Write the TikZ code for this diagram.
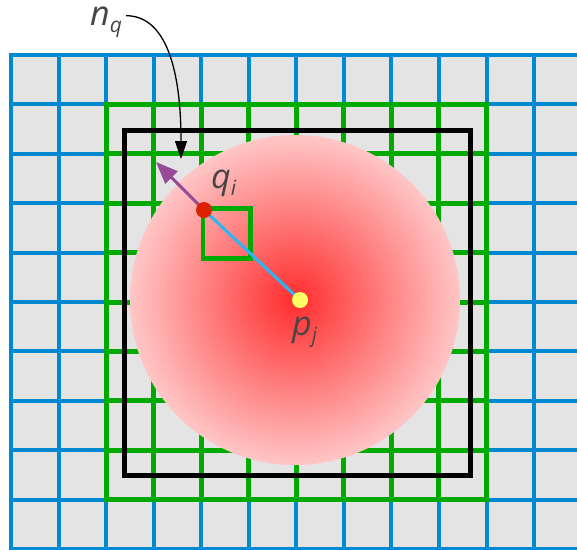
\documentclass[tikz,border=0pt]{standalone}
\usepackage{fontspec}
\setmainfont{Open Sans}
\usetikzlibrary{arrows.meta, calc}
\definecolor{gridblue}{RGB}{0,136,209}
\definecolor{gridgreen}{RGB}{0,170,0}
\definecolor{cellgray}{RGB}{228,228,228}
\definecolor{linkblue}{RGB}{41,182,246}
\definecolor{normalpurple}{RGB}{150,75,150}
\definecolor{labelgray}{RGB}{70,70,70}
\definecolor{kernelred}{RGB}{255,45,45}
\definecolor{kernelpink}{RGB}{255,198,198}
\definecolor{dotred}{RGB}{221,34,0}
\definecolor{dotyellow}{RGB}{255,255,100}
\tikzset{
    bluegrid/.style={gridblue, line width=4pt, line cap=rect},
    greengrid/.style={gridgreen, line width=5pt, line cap=rect},
    searchbox/.style={black, line width=5pt},
    particle/.style={circle, inner sep=0pt, minimum size=#1},
    symbol/.style={anchor=base west, inner sep=0pt, text=labelgray, font=\fontsize{34}{34}\selectfont\itshape}
}
\newcommand{\symb}[2]{#1\raisebox{-7pt}{\fontsize{21}{21}\selectfont #2}}

\begin{document}
\begin{tikzpicture}[x=1pt, y=-1pt]
        \useasboundingbox (0,0) rectangle (577,549);
        \clip (0,0) rectangle (577,549);
        % Background cells
        \fill[cellgray] (11,55) rectangle (600,580);
        
        % Coarse grid
        \foreach \i in {0,...,12} {
            \draw[bluegrid] (11+47.55*\i,55) -- (11+47.55*\i,580);
        }
        \foreach \j in {0,...,10} {
            \draw[bluegrid] (11,55+49.4*\j) -- (600,55+49.4*\j);
        }
        
        % Neighbour cells
        \foreach \i in {2,...,10} {
            \draw[greengrid] (11+47.55*\i,104.4) -- (11+47.55*\i,499.6);
        }
        \foreach \j in {1,...,9} {
            \draw[greengrid] (106.1,55+49.4*\j) -- (486.5,55+49.4*\j);
        }
        
        % Kernel support
        \shade[inner color=kernelred, outer color=kernelpink] (295,300) circle (165);
        \draw[searchbox] (124,130) rectangle (470,475);
        \draw[gridgreen, line width=4.5pt] (203,208.5) rectangle (250.5,258.3);
        
        % Particles and normal
        \coordinate (q) at (204,210);
        \coordinate (p) at (300,300);
        \coordinate (n) at (156,162);
        \draw[linkblue, line width=3pt] (q) -- (p);
        \draw[normalpurple, line width=3pt, -{Triangle[length=22pt, width=17pt]}] (q) -- (n);
        \node[particle=16pt, fill=dotred] (qi) at (q) {};
        \node[particle=16pt, fill=dotyellow] (pj) at (p) {};
        
        % Labels
        \node[symbol] (qlabel) at (211,188) {\symb{q}{i}};
        \node[symbol] (plabel) at (292,335) {\symb{p}{j}};
        \node[symbol] (nlabel) at (90,25) {\symb{n}{q}};
        \coordinate (ntip) at (181,159);
        \draw[line width=1.3pt, shorten <=4pt, -{Triangle[length=18pt, width=12pt]}] ([yshift=6pt]nlabel.east) .. controls +(40,0) and (181,60) .. (ntip);
    \end{tikzpicture}
\end{document}
